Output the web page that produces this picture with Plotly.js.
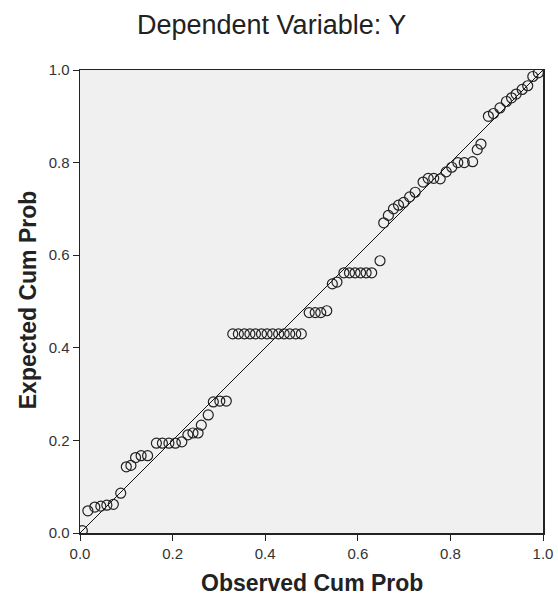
<!DOCTYPE html>
<html>
<head>
<meta charset="utf-8">
<script src="https://cdn.plot.ly/plotly-3.0.1.min.js"></script>
<style>html,body{margin:0;padding:0;background:#fff;}#chart{width:558px;height:608px;}</style>
</head>
<body>
<div id="chart"></div>
<script>
// Observed cumulative probability (x) and expected cumulative probability (y)
var observedCumProb = [
  0.005, 0.017, 0.032, 0.045, 0.058, 0.072, 0.088, 0.100, 0.110, 0.120,
  0.132, 0.146, 0.165, 0.178, 0.192, 0.206, 0.220, 0.233, 0.244, 0.255,
  0.262, 0.277, 0.288, 0.302, 0.316,
  0.330, 0.342, 0.355, 0.367, 0.379, 0.392, 0.404, 0.416, 0.429, 0.441, 0.453, 0.466, 0.478,
  0.495, 0.508, 0.520, 0.533, 0.545, 0.555,
  0.570, 0.582, 0.594, 0.606, 0.618, 0.630,
  0.648, 0.656, 0.666, 0.677, 0.688, 0.699, 0.712, 0.724, 0.741, 0.752,
  0.764, 0.778, 0.791, 0.803, 0.816, 0.830, 0.848, 0.858, 0.866, 0.882,
  0.893, 0.907, 0.921, 0.932, 0.942, 0.955, 0.967, 0.978, 0.990
];
var expectedCumProb = [
  0.005, 0.048, 0.056, 0.058, 0.060, 0.062, 0.086, 0.143, 0.146, 0.163,
  0.167, 0.167, 0.194, 0.194, 0.194, 0.194, 0.197, 0.212, 0.216, 0.216,
  0.233, 0.255, 0.283, 0.285, 0.285,
  0.430, 0.430, 0.430, 0.430, 0.430, 0.430, 0.430, 0.430, 0.430, 0.430, 0.430, 0.430, 0.430,
  0.476, 0.476, 0.476, 0.480, 0.538, 0.542,
  0.562, 0.562, 0.562, 0.562, 0.562, 0.562,
  0.588, 0.670, 0.686, 0.700, 0.708, 0.714, 0.726, 0.736, 0.758, 0.766,
  0.766, 0.765, 0.780, 0.790, 0.800, 0.800, 0.802, 0.828, 0.840, 0.900,
  0.906, 0.918, 0.932, 0.940, 0.948, 0.958, 0.966, 0.986, 0.994
];
var refLineX = [0, 1];
var refLineY = [0, 1];
var tickVals = [0, 0.2, 0.4, 0.6, 0.8, 1.0];
var tickLabels = ["0.0", "0.2", "0.4", "0.6", "0.8", "1.0"];
var chartTitle = "Dependent Variable: Y";
var xTitle = "Observed Cum Prob";
var yTitle = "Expected Cum Prob";

var fontFam = "Liberation Sans, Arial, sans-serif";

var traces = [
  {
    x: refLineX, y: refLineY, mode: "lines", type: "scatter",
    line: {color: "#111", width: 1}, hoverinfo: "skip", showlegend: false
  },
  {
    x: observedCumProb, y: expectedCumProb, mode: "markers", type: "scatter",
    marker: {symbol: "circle-open", size: 10, color: "#222", line: {width: 1.2, color: "#222"}},
    showlegend: false
  }
];

var axisCommon = {
  range: [0, 1], tickvals: tickVals, ticktext: tickLabels,
  showgrid: false, zeroline: false,
  showline: true, linecolor: "#222", linewidth: 1.5, mirror: true,
  ticks: "outside", ticklen: 6, tickcolor: "#222",
  tickfont: {family: fontFam, size: 15, color: "#333"}
};

var layout = {
  width: 558, height: 608,
  margin: {l: 80, r: 15, t: 70, b: 75},
  paper_bgcolor: "#ffffff",
  plot_bgcolor: "#f0f0f0",
  font: {family: fontFam, color: "#222", size: 15},
  xaxis: Object.assign({}, axisCommon),
  yaxis: Object.assign({}, axisCommon),
  annotations: [
    {
      text: chartTitle, xref: "paper", yref: "paper", x: 0.414, y: 1.097,
      xanchor: "center", yanchor: "middle", showarrow: false,
      font: {family: fontFam, size: 27, color: "#222"}
    },
    {
      text: "<b>" + xTitle + "</b>", xref: "paper", yref: "paper", x: 0.501, y: -0.108,
      xanchor: "center", yanchor: "middle", showarrow: false,
      font: {family: fontFam, size: 23, color: "#222"}
    },
    {
      text: "<b>" + yTitle + "</b>", xref: "paper", yref: "paper", x: -0.112, y: 0.503,
      xanchor: "center", yanchor: "middle", showarrow: false, textangle: -90,
      font: {family: fontFam, size: 23, color: "#222"}
    }
  ]
};

Plotly.newPlot("chart", traces, layout, {displayModeBar: false, staticPlot: true});
</script>
</body>
</html>
